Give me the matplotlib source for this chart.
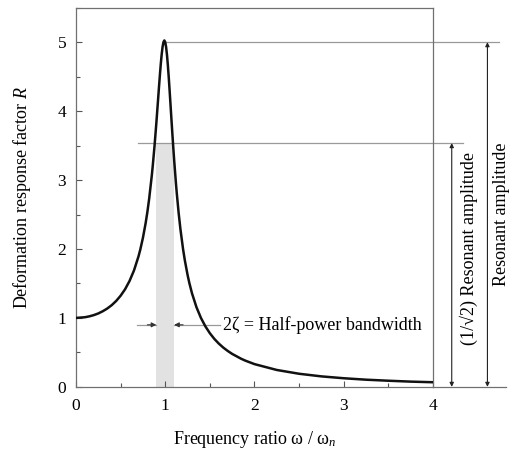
import matplotlib
matplotlib.use("Agg")
import matplotlib.pyplot as plt
from matplotlib.ticker import MultipleLocator

plt.rcParams['font.family'] = ['Liberation Serif', 'DejaVu Serif']
plt.rcParams['mathtext.fontset'] = 'custom'
plt.rcParams['mathtext.rm'] = 'Liberation Serif'
plt.rcParams['mathtext.it'] = 'Liberation Serif:italic'

# Frequency ratio and deformation response factor (zeta = 0.1)
freq_ratio = [0.0, 0.1, 0.15, 0.2, 0.25, 0.3, 0.35, 0.4, 0.45, 0.5, 0.55, 0.6,
              0.65, 0.7, 0.72, 0.75, 0.78, 0.8, 0.82, 0.85, 0.86, 0.88, 0.9,
              0.92, 0.93, 0.94, 0.95, 0.96, 0.97, 0.98, 0.99, 1.0, 1.01, 1.02,
              1.03, 1.04, 1.05, 1.06, 1.07, 1.08, 1.09, 1.1, 1.12, 1.13, 1.15,
              1.17, 1.2, 1.22, 1.25, 1.27, 1.3, 1.35, 1.4, 1.45, 1.5, 1.55,
              1.6, 1.65, 1.7, 1.75, 1.85, 1.9, 2.0, 2.25, 2.5, 2.75, 3.0, 3.25,
              3.5, 3.75, 4.0]
response = [1.0, 1.010, 1.023, 1.041, 1.065, 1.097, 1.136, 1.185, 1.246, 1.322,
            1.416, 1.536, 1.689, 1.891, 1.989, 2.162, 2.372, 2.538, 2.730,
            3.073, 3.204, 3.495, 3.821, 4.172, 4.350, 4.522, 4.683, 4.822,
            4.931, 5.001, 5.025, 5.0, 4.926, 4.809, 4.655, 4.476, 4.279, 4.075,
            3.869, 3.668, 3.473, 3.288, 2.950, 2.798, 2.525, 2.289, 1.995,
            1.832, 1.625, 1.507, 1.356, 1.155, 1.0, 0.877, 0.778, 0.696, 0.628,
            0.570, 0.521, 0.478, 0.408, 0.379, 0.330, 0.245, 0.190, 0.152,
            0.125, 0.104, 0.089, 0.076, 0.067]

peak = 5.0
half_power = 3.536
band_lo, band_hi = 0.9, 1.1

fig = plt.figure(figsize=(5.10, 4.53), dpi=100)
ax = fig.add_axes([0.149, 0.146, 0.700, 0.837])
ax.set_xlim(0, 4)
ax.set_ylim(0, 5.5)

gray = '#9a9a9a'
for s in ax.spines.values():
    s.set_color('#707070')
    s.set_linewidth(0.9)

# shaded half-power band
ax.fill_between([band_lo, band_hi], 0, half_power, color='#e2e2e2', lw=0, zorder=1)

# curve
ax.plot(freq_ratio, response, color='#111111', lw=1.8, zorder=3,
        solid_joinstyle='round')

# reference lines
ax.plot([1.0, 4.74], [peak, peak], color=gray, lw=0.9, clip_on=False, zorder=2)
ax.plot([0.7, 4.34], [half_power, half_power], color=gray, lw=0.9, clip_on=False, zorder=2)
ax.plot([4.0, 4.82], [0, 0], color='#707070', lw=0.9, clip_on=False, zorder=2)

# bandwidth arrows
ax.plot([0.68, band_lo], [0.9, 0.9], color=gray, lw=0.9, zorder=2)
ax.plot([band_hi, 1.61], [0.9, 0.9], color=gray, lw=0.9, zorder=2)
ax.annotate('', xy=(band_lo, 0.9), xytext=(0.80, 0.9),
            arrowprops=dict(arrowstyle='-|>', color='#333333', lw=0.8,
                            mutation_scale=7, shrinkA=0, shrinkB=0))
ax.annotate('', xy=(band_hi, 0.9), xytext=(1.20, 0.9),
            arrowprops=dict(arrowstyle='-|>', color='#333333', lw=0.8,
                            mutation_scale=7, shrinkA=0, shrinkB=0))
ax.text(1.65, 0.9, '2ζ = Half-power bandwidth', fontsize=13, va='center', ha='left')

# vertical double arrows
ax.annotate('', xy=(4.21, half_power), xytext=(4.21, 0), annotation_clip=False,
            arrowprops=dict(arrowstyle='<|-|>', color='#222222', lw=0.8,
                            mutation_scale=6, shrinkA=0, shrinkB=0))
ax.annotate('', xy=(4.61, peak), xytext=(4.61, 0), annotation_clip=False,
            arrowprops=dict(arrowstyle='<|-|>', color='#222222', lw=0.8,
                            mutation_scale=6, shrinkA=0, shrinkB=0))
ax.text(4.40, 2.0, '(1/√2) Resonant amplitude', rotation=90, fontsize=13,
        ha='center', va='center', clip_on=False)
ax.text(4.77, 2.5, 'Resonant amplitude', rotation=90, fontsize=13,
        ha='center', va='center', clip_on=False)

# ticks
ax.xaxis.set_major_locator(MultipleLocator(1))
ax.xaxis.set_minor_locator(MultipleLocator(0.5))
ax.yaxis.set_major_locator(MultipleLocator(1))
ax.yaxis.set_minor_locator(MultipleLocator(0.5))
ax.tick_params(which='both', direction='in', color='#555555', width=0.8)
ax.tick_params(which='major', length=4, labelsize=12.5)
ax.tick_params(which='minor', length=3)
ax.tick_params(axis='x', pad=8)
ax.tick_params(axis='y', pad=7)

ax.set_xlabel(r'Frequency ratio ω / ω$_{\mathit{n}}$', fontsize=13, labelpad=11)
ax.set_ylabel(r'Deformation response factor $R$', fontsize=13, labelpad=18)

fig.savefig('out.png', dpi=100)
